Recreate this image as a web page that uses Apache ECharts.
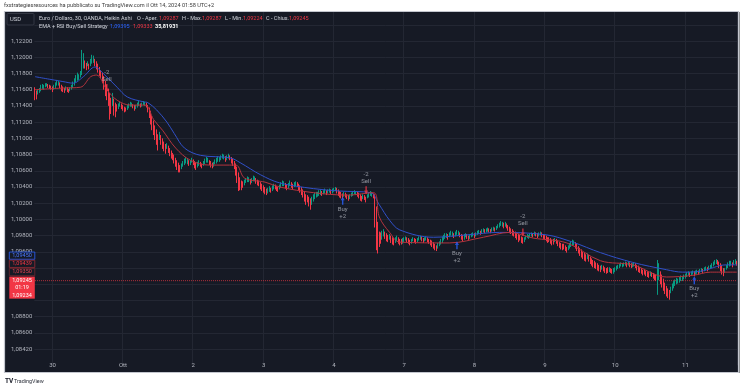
<!DOCTYPE html>
<html><head><meta charset="utf-8">
<script src="https://cdn.jsdelivr.net/npm/echarts@6/dist/echarts.min.js"></script>
<style>html,body{margin:0;padding:0;background:#fff;}#c{width:743px;height:390px;}</style>
</head><body><div id="c"></div>
<script>
// ---- data: Heikin Ashi 30m candles [open, close, low, high] per trading day ----
const dayLabels = ['27','30','Ott','2','3','4','7','8','9','10','11'];
const sep27 = [[1.1162,1.1155,1.1147,1.1163],[1.1158,1.1152,1.1148,1.1159],[1.1155,1.1157,1.1154,1.1160],[1.1156,1.1161,1.1156,1.1162],[1.1158,1.1164,1.1158,1.1166],[1.1161,1.1165,1.1161,1.1167],[1.1163,1.1164,1.1160,1.1166],[1.1164,1.1166,1.1163,1.1168],[1.1165,1.1167,1.1164,1.1168],[1.1166,1.1165,1.1162,1.1167],[1.1166,1.1163,1.1161,1.1166],[1.1164,1.1162,1.1160,1.1165]];
const sep30 = [[1.1163,1.1160,1.1157,1.1164],[1.1161,1.1164,1.1160,1.1166],[1.1162,1.1167,1.1162,1.1169],[1.1165,1.1170,1.1165,1.1172],[1.1167,1.1168,1.1165,1.1171],[1.1168,1.1164,1.1162,1.1169],[1.1166,1.1161,1.1158,1.1166],[1.1164,1.1160,1.1157,1.1164],[1.1162,1.1159,1.1156,1.1162],[1.1160,1.1162,1.1159,1.1164],[1.1161,1.1160,1.1157,1.1163],[1.1161,1.1158,1.1156,1.1161],[1.1159,1.1161,1.1158,1.1163],[1.1160,1.1164,1.1160,1.1166],[1.1162,1.1168,1.1162,1.1170],[1.1165,1.1172,1.1165,1.1174],[1.1169,1.1175,1.1169,1.1178],[1.1172,1.1178,1.1171,1.1181],[1.1175,1.1176,1.1172,1.1179],[1.1176,1.1180,1.1175,1.1183],[1.1178,1.1195,1.1178,1.1209],[1.1187,1.1198,1.1186,1.1205],[1.1193,1.1190,1.1186,1.1196],[1.1192,1.1187,1.1184,1.1193],[1.1190,1.1192,1.1189,1.1195],[1.1191,1.1188,1.1185,1.1192],[1.1190,1.1194,1.1189,1.1198],[1.1192,1.1199,1.1192,1.1203],[1.1196,1.1197,1.1193,1.1202],[1.1197,1.1192,1.1189,1.1198],[1.1195,1.1188,1.1185,1.1195],[1.1192,1.1184,1.1181,1.1192],[1.1188,1.1180,1.1177,1.1188],[1.1184,1.1177,1.1174,1.1184],[1.1181,1.1172,1.1168,1.1181],[1.1177,1.1165,1.1160,1.1177],[1.1171,1.1160,1.1152,1.1171],[1.1166,1.1155,1.1147,1.1166],[1.1161,1.1150,1.1140,1.1161],[1.1156,1.1144,1.1123,1.1156],[1.1150,1.1142,1.1130,1.1150],[1.1146,1.1148,1.1140,1.1156],[1.1147,1.1140,1.1128,1.1149],[1.1144,1.1135,1.1126,1.1144],[1.1140,1.1138,1.1133,1.1142],[1.1139,1.1140,1.1136,1.1143],[1.1140,1.1142,1.1139,1.1145],[1.1141,1.1139,1.1136,1.1143]];
const oct1 = [[1.1140,1.1137,1.1134,1.1141],[1.1138,1.1135,1.1132,1.1139],[1.1137,1.1136,1.1133,1.1138],[1.1136,1.1139,1.1135,1.1141],[1.1137,1.1141,1.1137,1.1143],[1.1139,1.1143,1.1139,1.1145],[1.1141,1.1142,1.1139,1.1144],[1.1141,1.1139,1.1137,1.1142],[1.1140,1.1137,1.1134,1.1141],[1.1138,1.1139,1.1136,1.1141],[1.1138,1.1141,1.1138,1.1144],[1.1140,1.1143,1.1140,1.1146],[1.1141,1.1140,1.1138,1.1143],[1.1141,1.1142,1.1139,1.1144],[1.1141,1.1144,1.1141,1.1146],[1.1142,1.1143,1.1140,1.1145],[1.1143,1.1140,1.1138,1.1144],[1.1141,1.1135,1.1132,1.1141],[1.1138,1.1129,1.1125,1.1138],[1.1134,1.1122,1.1117,1.1134],[1.1128,1.1116,1.1110,1.1128],[1.1122,1.1110,1.1104,1.1122],[1.1116,1.1105,1.1098,1.1116],[1.1111,1.1100,1.1092,1.1111],[1.1105,1.1096,1.1085,1.1105],[1.1101,1.1103,1.1098,1.1108],[1.1102,1.1097,1.1092,1.1104],[1.1100,1.1092,1.1087,1.1100],[1.1096,1.1089,1.1084,1.1096],[1.1093,1.1087,1.1081,1.1093],[1.1090,1.1091,1.1087,1.1094],[1.1090,1.1086,1.1082,1.1091],[1.1088,1.1082,1.1078,1.1088],[1.1085,1.1079,1.1075,1.1085],[1.1082,1.1077,1.1073,1.1082],[1.1080,1.1073,1.1069,1.1080],[1.1076,1.1070,1.1065,1.1076],[1.1073,1.1066,1.1061,1.1073],[1.1070,1.1064,1.1058,1.1070],[1.1067,1.1062,1.1058,1.1067],[1.1064,1.1066,1.1062,1.1069],[1.1065,1.1069,1.1065,1.1072],[1.1067,1.1072,1.1067,1.1075],[1.1069,1.1074,1.1069,1.1077],[1.1071,1.1072,1.1068,1.1075],[1.1072,1.1069,1.1066,1.1073],[1.1070,1.1071,1.1067,1.1073],[1.1071,1.1073,1.1070,1.1076]];
const oct2 = [[1.1072,1.1070,1.1067,1.1074],[1.1071,1.1067,1.1063,1.1072],[1.1069,1.1065,1.1061,1.1070],[1.1067,1.1068,1.1064,1.1071],[1.1067,1.1070,1.1066,1.1073],[1.1069,1.1068,1.1065,1.1071],[1.1068,1.1066,1.1063,1.1069],[1.1067,1.1069,1.1066,1.1072],[1.1068,1.1072,1.1068,1.1075],[1.1070,1.1074,1.1070,1.1077],[1.1072,1.1073,1.1070,1.1076],[1.1072,1.1070,1.1067,1.1073],[1.1071,1.1067,1.1064,1.1072],[1.1069,1.1066,1.1063,1.1070],[1.1068,1.1068,1.1065,1.1071],[1.1068,1.1071,1.1068,1.1074],[1.1069,1.1073,1.1069,1.1076],[1.1071,1.1075,1.1071,1.1078],[1.1073,1.1074,1.1071,1.1077],[1.1074,1.1076,1.1073,1.1079],[1.1075,1.1078,1.1075,1.1081],[1.1076,1.1077,1.1074,1.1080],[1.1076,1.1074,1.1071,1.1078],[1.1075,1.1076,1.1073,1.1079],[1.1075,1.1078,1.1075,1.1081],[1.1077,1.1076,1.1073,1.1079],[1.1076,1.1073,1.1069,1.1077],[1.1075,1.1070,1.1066,1.1075],[1.1072,1.1066,1.1062,1.1072],[1.1069,1.1060,1.1054,1.1069],[1.1065,1.1052,1.1045,1.1065],[1.1058,1.1046,1.1035,1.1058],[1.1052,1.1043,1.1036,1.1052],[1.1048,1.1041,1.1036,1.1048],[1.1045,1.1043,1.1039,1.1047],[1.1044,1.1046,1.1042,1.1049],[1.1045,1.1048,1.1045,1.1051],[1.1046,1.1050,1.1046,1.1053],[1.1048,1.1049,1.1046,1.1052],[1.1048,1.1046,1.1043,1.1050],[1.1047,1.1048,1.1045,1.1051],[1.1048,1.1051,1.1047,1.1054],[1.1049,1.1050,1.1047,1.1053],[1.1050,1.1047,1.1044,1.1051],[1.1048,1.1045,1.1042,1.1049],[1.1047,1.1044,1.1041,1.1048],[1.1045,1.1041,1.1037,1.1046],[1.1043,1.1039,1.1035,1.1044]];
const oct3 = [[1.1041,1.1037,1.1033,1.1042],[1.1039,1.1035,1.1031,1.1040],[1.1037,1.1034,1.1030,1.1038],[1.1036,1.1036,1.1032,1.1039],[1.1036,1.1038,1.1034,1.1041],[1.1037,1.1036,1.1033,1.1039],[1.1037,1.1039,1.1035,1.1042],[1.1038,1.1041,1.1037,1.1044],[1.1040,1.1040,1.1037,1.1043],[1.1040,1.1038,1.1035,1.1041],[1.1039,1.1037,1.1034,1.1040],[1.1038,1.1040,1.1037,1.1043],[1.1039,1.1043,1.1039,1.1046],[1.1041,1.1045,1.1041,1.1048],[1.1043,1.1044,1.1041,1.1047],[1.1044,1.1041,1.1038,1.1045],[1.1043,1.1039,1.1036,1.1043],[1.1041,1.1042,1.1038,1.1045],[1.1042,1.1045,1.1041,1.1048],[1.1043,1.1042,1.1039,1.1046],[1.1043,1.1040,1.1037,1.1044],[1.1041,1.1043,1.1040,1.1046],[1.1042,1.1045,1.1041,1.1047],[1.1044,1.1043,1.1040,1.1046],[1.1043,1.1040,1.1036,1.1044],[1.1042,1.1037,1.1033,1.1042],[1.1039,1.1034,1.1030,1.1040],[1.1037,1.1032,1.1027,1.1037],[1.1034,1.1028,1.1022,1.1035],[1.1031,1.1025,1.1018,1.1031],[1.1028,1.1027,1.1021,1.1030],[1.1027,1.1024,1.1016,1.1028],[1.1026,1.1020,1.1012,1.1026],[1.1023,1.1025,1.1018,1.1028],[1.1024,1.1028,1.1022,1.1031],[1.1026,1.1030,1.1025,1.1033],[1.1028,1.1032,1.1027,1.1034],[1.1030,1.1031,1.1028,1.1034],[1.1030,1.1033,1.1029,1.1036],[1.1032,1.1034,1.1030,1.1037],[1.1033,1.1032,1.1029,1.1035],[1.1032,1.1034,1.1031,1.1036],[1.1033,1.1035,1.1032,1.1038],[1.1034,1.1033,1.1030,1.1036],[1.1033,1.1035,1.1032,1.1037],[1.1034,1.1036,1.1033,1.1038],[1.1035,1.1034,1.1031,1.1037],[1.1034,1.1035,1.1032,1.1038]];
const oct4 = [[1.1035,1.1037,1.1034,1.1039],[1.1036,1.1038,1.1035,1.1040],[1.1037,1.1035,1.1032,1.1039],[1.1036,1.1033,1.1029,1.1037],[1.1035,1.1031,1.1027,1.1035],[1.1033,1.1030,1.1026,1.1034],[1.1032,1.1029,1.1025,1.1032],[1.1031,1.1032,1.1028,1.1034],[1.1031,1.1030,1.1027,1.1033],[1.1031,1.1028,1.1025,1.1031],[1.1030,1.1027,1.1023,1.1030],[1.1029,1.1029,1.1025,1.1031],[1.1029,1.1031,1.1028,1.1033],[1.1030,1.1033,1.1029,1.1035],[1.1031,1.1034,1.1031,1.1036],[1.1032,1.1033,1.1030,1.1035],[1.1033,1.1031,1.1028,1.1034],[1.1032,1.1029,1.1026,1.1033],[1.1031,1.1027,1.1023,1.1031],[1.1029,1.1026,1.1022,1.1029],[1.1028,1.1029,1.1025,1.1031],[1.1028,1.1027,1.1024,1.1030],[1.1028,1.1025,1.1021,1.1028],[1.1027,1.1029,1.1026,1.1031],[1.1028,1.1031,1.1027,1.1033],[1.1029,1.1032,1.1029,1.1035],[1.1030,1.1031,1.1028,1.1034],[1.1031,1.1029,1.1026,1.1032],[1.1030,1.1000,1.0990,1.1031],[1.1015,1.0978,1.0962,1.1016],[1.0997,1.0972,1.0958,1.0997],[1.0985,1.0974,1.0966,1.0985],[1.0980,1.0978,1.0970,1.0984],[1.0979,1.0982,1.0975,1.0986],[1.0980,1.0984,1.0979,1.0988],[1.0982,1.0981,1.0976,1.0985],[1.0982,1.0978,1.0973,1.0983],[1.0980,1.0977,1.0972,1.0981],[1.0979,1.0979,1.0975,1.0982],[1.0979,1.0976,1.0971,1.0980],[1.0978,1.0974,1.0969,1.0978],[1.0976,1.0973,1.0968,1.0977],[1.0975,1.0975,1.0971,1.0978],[1.0975,1.0977,1.0973,1.0980],[1.0976,1.0974,1.0970,1.0978],[1.0975,1.0972,1.0968,1.0976],[1.0974,1.0973,1.0969,1.0976],[1.0973,1.0974,1.0970,1.0977]];
const oct7 = [[1.0974,1.0976,1.0972,1.0978],[1.0975,1.0977,1.0974,1.0979],[1.0976,1.0975,1.0972,1.0978],[1.0976,1.0973,1.0970,1.0977],[1.0975,1.0972,1.0968,1.0975],[1.0974,1.0974,1.0970,1.0976],[1.0974,1.0976,1.0973,1.0978],[1.0975,1.0975,1.0972,1.0977],[1.0975,1.0973,1.0970,1.0976],[1.0974,1.0975,1.0972,1.0977],[1.0974,1.0977,1.0974,1.0979],[1.0975,1.0978,1.0975,1.0980],[1.0977,1.0976,1.0973,1.0979],[1.0976,1.0974,1.0971,1.0977],[1.0975,1.0976,1.0973,1.0978],[1.0975,1.0977,1.0974,1.0979],[1.0976,1.0975,1.0972,1.0978],[1.0976,1.0973,1.0970,1.0976],[1.0974,1.0972,1.0968,1.0975],[1.0973,1.0970,1.0966,1.0974],[1.0972,1.0968,1.0964,1.0972],[1.0970,1.0966,1.0962,1.0970],[1.0968,1.0965,1.0961,1.0968],[1.0967,1.0968,1.0964,1.0971],[1.0967,1.0971,1.0967,1.0973],[1.0969,1.0974,1.0969,1.0976],[1.0971,1.0977,1.0971,1.0979],[1.0974,1.0979,1.0974,1.0981],[1.0976,1.0981,1.0976,1.0983],[1.0978,1.0980,1.0977,1.0983],[1.0979,1.0978,1.0975,1.0982],[1.0979,1.0981,1.0978,1.0984],[1.0980,1.0983,1.0980,1.0986],[1.0981,1.0982,1.0979,1.0985],[1.0982,1.0980,1.0977,1.0983],[1.0981,1.0982,1.0979,1.0985],[1.0981,1.0984,1.0981,1.0987],[1.0982,1.0983,1.0980,1.0986],[1.0983,1.0981,1.0978,1.0984],[1.0982,1.0979,1.0975,1.0982],[1.0981,1.0977,1.0973,1.0981],[1.0979,1.0979,1.0975,1.0982],[1.0979,1.0981,1.0978,1.0983],[1.0980,1.0979,1.0976,1.0982],[1.0980,1.0977,1.0974,1.0980],[1.0978,1.0979,1.0976,1.0981],[1.0979,1.0981,1.0978,1.0983],[1.0980,1.0982,1.0979,1.0984]];
const oct8 = [[1.0981,1.0980,1.0977,1.0983],[1.0981,1.0982,1.0979,1.0984],[1.0981,1.0984,1.0981,1.0986],[1.0982,1.0985,1.0982,1.0987],[1.0984,1.0984,1.0981,1.0986],[1.0984,1.0986,1.0983,1.0988],[1.0985,1.0987,1.0984,1.0989],[1.0986,1.0985,1.0983,1.0988],[1.0986,1.0987,1.0984,1.0989],[1.0986,1.0988,1.0985,1.0990],[1.0987,1.0987,1.0984,1.0989],[1.0987,1.0986,1.0983,1.0988],[1.0987,1.0988,1.0985,1.0990],[1.0987,1.0989,1.0986,1.0991],[1.0988,1.0988,1.0985,1.0990],[1.0988,1.0990,1.0987,1.0992],[1.0989,1.0992,1.0989,1.0994],[1.0990,1.0994,1.0990,1.0996],[1.0992,1.0995,1.0992,1.0998],[1.0993,1.0994,1.0991,1.0997],[1.0994,1.0992,1.0989,1.0996],[1.0993,1.0994,1.0991,1.0997],[1.0993,1.0992,1.0989,1.0995],[1.0992,1.0989,1.0986,1.0993],[1.0991,1.0987,1.0983,1.0991],[1.0989,1.0986,1.0982,1.0989],[1.0988,1.0984,1.0980,1.0988],[1.0986,1.0983,1.0979,1.0986],[1.0985,1.0982,1.0977,1.0985],[1.0983,1.0980,1.0975,1.0984],[1.0982,1.0977,1.0972,1.0982],[1.0979,1.0978,1.0974,1.0981],[1.0979,1.0976,1.0971,1.0979],[1.0977,1.0974,1.0970,1.0978],[1.0976,1.0976,1.0972,1.0978],[1.0976,1.0978,1.0975,1.0980],[1.0977,1.0980,1.0977,1.0982],[1.0978,1.0979,1.0976,1.0981],[1.0979,1.0981,1.0978,1.0983],[1.0980,1.0982,1.0979,1.0984],[1.0981,1.0981,1.0978,1.0983],[1.0981,1.0983,1.0980,1.0985],[1.0982,1.0982,1.0979,1.0984],[1.0982,1.0980,1.0977,1.0983],[1.0981,1.0982,1.0979,1.0984],[1.0981,1.0983,1.0980,1.0985],[1.0982,1.0981,1.0978,1.0984],[1.0982,1.0979,1.0976,1.0982]];
const oct9 = [[1.0981,1.0978,1.0975,1.0981],[1.0979,1.0977,1.0973,1.0980],[1.0978,1.0975,1.0971,1.0978],[1.0977,1.0976,1.0972,1.0978],[1.0976,1.0974,1.0970,1.0977],[1.0975,1.0972,1.0968,1.0975],[1.0974,1.0973,1.0969,1.0976],[1.0973,1.0975,1.0972,1.0977],[1.0974,1.0973,1.0970,1.0976],[1.0974,1.0971,1.0967,1.0974],[1.0972,1.0969,1.0965,1.0972],[1.0971,1.0968,1.0963,1.0971],[1.0969,1.0966,1.0962,1.0970],[1.0968,1.0967,1.0963,1.0970],[1.0967,1.0965,1.0961,1.0968],[1.0966,1.0963,1.0959,1.0966],[1.0965,1.0966,1.0962,1.0968],[1.0965,1.0968,1.0964,1.0971],[1.0967,1.0970,1.0966,1.0973],[1.0968,1.0972,1.0968,1.0975],[1.0970,1.0971,1.0968,1.0974],[1.0971,1.0968,1.0964,1.0972],[1.0969,1.0965,1.0961,1.0970],[1.0967,1.0962,1.0958,1.0967],[1.0965,1.0960,1.0955,1.0965],[1.0962,1.0958,1.0953,1.0963],[1.0960,1.0956,1.0951,1.0960],[1.0958,1.0954,1.0949,1.0959],[1.0956,1.0953,1.0948,1.0957],[1.0955,1.0955,1.0951,1.0958],[1.0955,1.0952,1.0948,1.0956],[1.0954,1.0950,1.0945,1.0954],[1.0952,1.0948,1.0943,1.0952],[1.0950,1.0946,1.0941,1.0950],[1.0948,1.0945,1.0940,1.0949],[1.0947,1.0944,1.0939,1.0947],[1.0946,1.0942,1.0937,1.0946],[1.0944,1.0941,1.0936,1.0944],[1.0943,1.0940,1.0935,1.0943],[1.0942,1.0942,1.0938,1.0944],[1.0942,1.0940,1.0936,1.0943],[1.0941,1.0938,1.0934,1.0941],[1.0940,1.0937,1.0933,1.0940],[1.0939,1.0938,1.0934,1.0941],[1.0938,1.0939,1.0935,1.0941],[1.0939,1.0937,1.0934,1.0940],[1.0938,1.0936,1.0933,1.0939],[1.0937,1.0937,1.0933,1.0940]];
const oct10 = [[1.0937,1.0939,1.0935,1.0941],[1.0938,1.0941,1.0937,1.0943],[1.0939,1.0942,1.0939,1.0944],[1.0941,1.0943,1.0940,1.0945],[1.0942,1.0945,1.0942,1.0947],[1.0943,1.0944,1.0941,1.0946],[1.0944,1.0945,1.0942,1.0947],[1.0944,1.0946,1.0943,1.0948],[1.0945,1.0944,1.0941,1.0947],[1.0945,1.0946,1.0943,1.0948],[1.0945,1.0944,1.0941,1.0947],[1.0945,1.0943,1.0940,1.0946],[1.0944,1.0944,1.0941,1.0946],[1.0944,1.0945,1.0942,1.0947],[1.0944,1.0943,1.0940,1.0946],[1.0944,1.0941,1.0937,1.0944],[1.0942,1.0939,1.0935,1.0943],[1.0941,1.0938,1.0934,1.0941],[1.0939,1.0937,1.0933,1.0940],[1.0938,1.0935,1.0931,1.0938],[1.0937,1.0936,1.0932,1.0939],[1.0936,1.0934,1.0930,1.0937],[1.0935,1.0933,1.0929,1.0936],[1.0934,1.0932,1.0928,1.0935],[1.0933,1.0934,1.0930,1.0936],[1.0933,1.0933,1.0929,1.0935],[1.0933,1.0931,1.0927,1.0934],[1.0932,1.0930,1.0925,1.0933],[1.0931,1.0929,1.0924,1.0932],[1.0930,1.0936,1.0907,1.0950],[1.0933,1.0938,1.0925,1.0946],[1.0935,1.0928,1.0920,1.0936],[1.0932,1.0922,1.0916,1.0932],[1.0927,1.0917,1.0912,1.0927],[1.0922,1.0913,1.0908,1.0922],[1.0918,1.0912,1.0905,1.0918],[1.0915,1.0910,1.0903,1.0915],[1.0913,1.0909,1.0901,1.0913],[1.0911,1.0914,1.0909,1.0917],[1.0912,1.0918,1.0912,1.0921],[1.0915,1.0921,1.0915,1.0924],[1.0918,1.0923,1.0918,1.0926],[1.0920,1.0925,1.0920,1.0928],[1.0922,1.0924,1.0921,1.0927],[1.0923,1.0926,1.0922,1.0929],[1.0924,1.0928,1.0924,1.0931],[1.0926,1.0927,1.0924,1.0930],[1.0926,1.0929,1.0926,1.0932]];
const oct11 = [[1.0928,1.0931,1.0927,1.0933],[1.0930,1.0933,1.0929,1.0935],[1.0931,1.0934,1.0931,1.0936],[1.0933,1.0932,1.0929,1.0935],[1.0932,1.0934,1.0931,1.0936],[1.0933,1.0935,1.0932,1.0937],[1.0934,1.0933,1.0930,1.0936],[1.0933,1.0935,1.0932,1.0937],[1.0934,1.0936,1.0933,1.0938],[1.0935,1.0935,1.0932,1.0937],[1.0935,1.0937,1.0934,1.0939],[1.0936,1.0938,1.0935,1.0940],[1.0937,1.0937,1.0934,1.0939],[1.0937,1.0939,1.0936,1.0941],[1.0938,1.0940,1.0937,1.0942],[1.0939,1.0939,1.0936,1.0941],[1.0939,1.0941,1.0938,1.0943],[1.0940,1.0942,1.0939,1.0944],[1.0941,1.0944,1.0940,1.0946],[1.0942,1.0946,1.0942,1.0948],[1.0944,1.0948,1.0944,1.0950],[1.0946,1.0949,1.0945,1.0951],[1.0947,1.0947,1.0944,1.0950],[1.0947,1.0944,1.0940,1.0948],[1.0946,1.0941,1.0936,1.0946],[1.0943,1.0937,1.0932,1.0944],[1.0940,1.0935,1.0930,1.0940],[1.0938,1.0938,1.0934,1.0940],[1.0938,1.0942,1.0938,1.0944],[1.0940,1.0944,1.0940,1.0947],[1.0942,1.0947,1.0942,1.0949],[1.0944,1.0946,1.0943,1.0949],[1.0945,1.0944,1.0941,1.0947],[1.0945,1.0947,1.0944,1.0950],[1.0946,1.0948,1.0945,1.0951],[1.0947,1.0946,1.0943,1.0949]];
const days = [sep27, sep30, oct1, oct2, oct3, oct4, oct7, oct8, oct9, oct10, oct11];

// EMA lines: [candle index, price]
const emaSlow = [[0,1.1176],[19,1.1170],[26,1.1168],[33,1.1176],[41,1.1188],[46,1.1181],[56,1.1163],[63,1.1151],[74,1.1145],[77,1.1144],[83,1.1135],[90,1.1120],[95,1.1106],[102,1.1088],[113,1.1079],[133,1.1076],[140,1.1070],[154,1.1055],[167,1.1045],[190,1.1038],[208,1.1035],[229,1.1033],[235,1.1018],[242,1.0999],[249,1.0987],[272,1.0978],[295,1.0981],[317,1.0984],[349,1.0981],[367,1.0972],[386,1.0959],[408,1.0947],[431,1.0938],[442,1.0935],[454,1.0936],[472,1.0944],[479,1.0944]];
const emaFast = [[0,1.1160],[19,1.1162],[31,1.1163],[38,1.1176],[42,1.1178],[49,1.1160],[56,1.1147],[65,1.1141],[75,1.1141],[81,1.1123],[87,1.1110],[96,1.1088],[106,1.1073],[119,1.1067],[137,1.1067],[143,1.1051],[157,1.1046],[167,1.1040],[190,1.1033],[213,1.1030],[231,1.1033],[235,1.1003],[242,1.0984],[249,1.0972],[283,1.0971],[306,1.0978],[324,1.0984],[340,1.0977],[363,1.0971],[386,1.0949],[408,1.0944],[431,1.0929],[449,1.0931],[461,1.0935],[479,1.0935]];

// signals
const signalIdx = [49, 210, 226, 288, 333, 450];
const signalPrice = [1.1162, 1.1023, 1.1036, 1.0968, 1.0984, 1.0925];
const signalType = ['sell','buy','sell','buy','sell','buy'];
const signalText = ['-2\nSell','Buy\n+2','-2\nSell','Buy\n+2','-2\nSell','Buy\n+2'];

// axis ticks
const yTickValues = [1.122,1.120,1.118,1.116,1.114,1.112,1.110,1.108,1.106,1.104,1.102,1.100,1.098,1.096,1.088,1.086,1.084];
const yTickLabels = ['1,12200','1,12000','1,11800','1,11600','1,11400','1,11200','1,11000','1,10800','1,10600','1,10400','1,10200','1,10000','1,09800','1,09600','1,08800','1,08600','1,08420'];
const yMin = 1.082, yMax = 1.126, yStep = 0.002;

const lastPrice = 1.09245;
const boxLabels = ['1,09450','1,09439','1,09350'];
const lastBoxLabels = ['1,09245','01:19','1,09234'];
const headerText = 'fxstrategiesresources ha pubblicato su TradingView.com il Ott 14, 2024 01:58 UTC+2';
const legend1 = ['Euro / Dollaro, 30, OANDA, Heikin Ashi', 'O - Aper.', '1,09287', 'H - Max.', '1,09287', 'L - Min.', '1,09224', 'C - Chius.', '1,09245'];
const legend2 = ['EMA + RSI Buy/Sell Strategy', '1,09395', '1,09333', '35,81931'];

// ---- layout / style ----
const FONT = 'Roboto, "Liberation Sans", sans-serif';
const legend1X = [39, 137, 159, 182, 202, 225, 243, 266, 289];
const legend1S = ['w','w','r','w','r','w','r','w','r'];
const legend2X = [39, 110, 133, 155];
const legend2S = ['w','b','r','v'];

const categories = [], candles = [], dayStart = new Set();
days.forEach((d, di) => d.forEach((c, k) => {
  if (k === 0 && di > 0) dayStart.add(categories.length);
  categories.push(dayLabels[di] + '|' + k);
  candles.push(c);
}));

// plot area: price 1.126 sits at y=8.56, 1.082 at y=365.4 (16.22px per 0.002)
const GRID = {left: 34.3, top: 8.56, width: 703.2, height: 356.84};
const BG = '#161a25', GRIDC = '#232733', TXT = '#b2b5be';
const UP = '#089981', DOWN = '#f23645';
const nTicks = Math.round((yMax - yMin) / yStep) + 1;
const splitColors = [];
for (let k = 0; k < nTicks; k++) splitColors.push(k === 0 || k === nTicks - 1 ? 'rgba(0,0,0,0)' : GRIDC);

const chart = echarts.init(document.getElementById('c'), null, {renderer: 'canvas'});
const arrowPath = 'path://M4,0L8,4.5L5.4,4.5L5.4,10L2.6,10L2.6,4.5L0,4.5Z';

const signalData = signalIdx.map((x, k) => ({
  value: [x, signalPrice[k]],
  symbolRotate: signalType[k] === 'sell' ? 180 : 0,
  itemStyle: {color: signalType[k] === 'sell' ? '#f23645' : '#2962ff'},
  label: {position: signalType[k] === 'sell' ? 'top' : 'bottom', formatter: signalText[k]}
}));

const fmtY = (v) => { const k = yTickValues.findIndex(t => Math.abs(t - v) < 1e-6); return k >= 0 ? yTickLabels[k] : ''; };

chart.setOption({
  backgroundColor: BG,
  animation: false,
  textStyle: {fontFamily: FONT},
  grid: GRID,
  xAxis: {
    type: 'category', data: categories, boundaryGap: true,
    axisLine: {show: false}, axisTick: {show: false},
    axisLabel: {
      interval: (i) => dayStart.has(i),
      formatter: (v) => v.split('|')[0],
      color: TXT, fontSize: 6, margin: -2.5, fontFamily: FONT
    },
    splitLine: {show: true, interval: (i) => dayStart.has(i), lineStyle: {color: GRIDC, width: 1}}
  },
  yAxis: {
    type: 'value', position: 'left', min: yMin, max: yMax, interval: yStep,
    axisLine: {show: false}, axisTick: {show: false},
    axisLabel: {
      color: TXT, fontSize: 6, margin: 2, fontFamily: FONT, hideOverlap: false,
      customValues: yTickValues, formatter: fmtY
    },
    splitLine: {show: true, lineStyle: {color: splitColors, width: 1}}
  },
  series: [
    {
      type: 'candlestick', data: candles, barWidth: 1.1,
      itemStyle: {color: UP, color0: DOWN, borderColor: UP, borderColor0: DOWN, borderWidth: 1}
    },
    {
      type: 'line', data: [[0, lastPrice], [categories.length - 1, lastPrice]], showSymbol: false, z: 2,
      lineStyle: {color: '#f23645', type: 'dotted', width: 1, opacity: 0.7}
    },
    {type: 'line', data: emaSlow, showSymbol: false, smooth: 0.35, lineStyle: {color: '#3050c8', width: 1}, z: 3},
    {type: 'line', data: emaFast, showSymbol: false, smooth: 0.35, lineStyle: {color: '#b3343e', width: 1}, z: 3},
    {
      type: 'scatter', data: signalData, symbol: arrowPath, symbolSize: [4, 8], z: 5,
      label: {show: true, color: TXT, fontSize: 6, lineHeight: 7, distance: 1, fontFamily: FONT}
    }
  ]
});

// ---- frame, header, legend, price boxes ----
const yLast = chart.convertToPixel({yAxisIndex: 0}, lastPrice);
const g = [];
g.push({type: 'rect', shape: {x: 0, y: 0, width: 743, height: 12}, style: {fill: '#fff'}, z: 100});
g.push({type: 'rect', shape: {x: 0, y: 373, width: 743, height: 17}, style: {fill: '#fff'}, z: 100});
g.push({type: 'rect', shape: {x: 0, y: 0, width: 4.5, height: 390}, style: {fill: '#fff'}, z: 100});
g.push({type: 'rect', shape: {x: 739.5, y: 0, width: 4, height: 390}, style: {fill: '#fff'}, z: 100});
g.push({type: 'rect', shape: {x: 4.5, y: 11.5, width: 734, height: 361}, style: {fill: null, stroke: '#c3c6ce', lineWidth: 1.2}, z: 101});
g.push({type: 'text', x: 4, y: 6, style: {text: headerText, fill: '#3c3c3c', fontSize: 5.6, fontFamily: FONT, verticalAlign: 'middle'}, z: 102});
g.push({type: 'text', x: 5, y: 381.5, style: {text: 'TV', fill: '#131722', fontSize: 6.5, fontWeight: 'bold', fontFamily: FONT, verticalAlign: 'middle'}, z: 102});
g.push({type: 'text', x: 14, y: 381.5, style: {text: 'TradingView', fill: '#2a2e39', fontSize: 5.4, fontFamily: FONT, verticalAlign: 'middle'}, z: 102});
g.push({type: 'rect', shape: {x: 7, y: 13.5, width: 27, height: 11.5, r: 1}, style: {fill: BG, stroke: '#3b3f4b', lineWidth: 0.8}, z: 102});
g.push({type: 'text', x: 10, y: 19.3, style: {text: 'USD', fill: '#d1d4dc', fontSize: 5.8, fontFamily: FONT, verticalAlign: 'middle'}, z: 103});
const legendFill = {w: '#d1d4dc', r: '#f23645', b: '#2962ff', v: '#ffffff'};
legend1.forEach((t, k) => g.push({type: 'text', x: legend1X[k], y: 19, style: {text: t, fill: legendFill[legend1S[k]], fontSize: 5.5, fontFamily: FONT, verticalAlign: 'middle'}, z: 103}));
legend2.forEach((t, k) => g.push({type: 'text', x: legend2X[k], y: 26.5, style: {text: t, fill: legendFill[legend2S[k]], fontSize: 5.5, fontWeight: legend2S[k] === 'v' ? 'bold' : 'normal', fontFamily: FONT, verticalAlign: 'middle'}, z: 103}));
const boxStyles = [
  {stroke: '#2962ff', text: '#4a78ff'},
  {stroke: '#9b2c36', text: '#f23645'},
  {stroke: '#6e2830', text: '#e0424f'}
];
boxLabels.forEach((t, k) => {
  const cy = yLast - 25 + k * 8.2;
  g.push({type: 'rect', shape: {x: 9.3, y: cy - 3.6, width: 25.5, height: 7.2}, style: {fill: BG, stroke: boxStyles[k].stroke, lineWidth: 0.8}, z: 104});
  g.push({type: 'text', x: 22, y: cy, style: {text: t, fill: boxStyles[k].text, fontSize: 5.5, fontFamily: FONT, align: 'center', verticalAlign: 'middle'}, z: 105});
});
g.push({type: 'rect', shape: {x: 9.3, y: yLast - 4, width: 25.5, height: 22}, style: {fill: '#f23645'}, z: 104});
lastBoxLabels.forEach((t, k) => {
  g.push({type: 'text', x: 22, y: yLast + k * 7.3, style: {text: t, fill: '#ffffff', fontSize: 5.5, fontFamily: FONT, align: 'center', verticalAlign: 'middle'}, z: 105});
});
chart.setOption({graphic: {elements: g}});
</script>
</body></html>
